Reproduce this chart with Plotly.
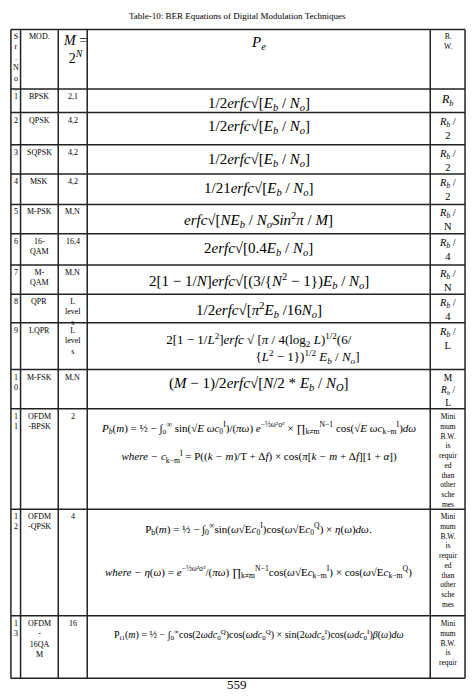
import plotly.graph_objects as go

# table content
sr_no = ["S<br>r<br>.<br>N<br>o<br>.", "1", "2", "3", "4", "5", "6", "7", "8", "9",
         "1<br>0", "1<br>1", "1<br>2", "1<br>3"]
mods = ["MOD.", "BPSK", "QPSK", "SQPSK", "MSK", "M-PSK", "16-<br>QAM", "M-<br>QAM", "QPR",
        "LQPR", "M-FSK", "OFDM<br>-BPSK", "OFDM<br>-QPSK", "OFDM<br>-<br>16QA<br>M"]
mn = ["", "2,1", "4,2", "4,2", "4,2", "M,N", "16,4", "M,N", "L<br>level<br>s",
      "L<br>level<br>s", "M,N", "2", "4", "16"]
pe = [
    "<i>P<sub>e</sub></i>",
    "1/2<i>erfc</i>√[<i>E<sub>b</sub></i> / <i>N<sub>o</sub></i>]",
    "1/2<i>erfc</i>√[<i>E<sub>b</sub></i> / <i>N<sub>o</sub></i>]",
    "1/2<i>erfc</i>√[<i>E<sub>b</sub></i> / <i>N<sub>o</sub></i>]",
    "1/21<i>erfc</i>√[<i>E<sub>b</sub></i> / <i>N<sub>o</sub></i>]",
    "<i>erfc</i>√[<i>NE<sub>b</sub></i> / <i>N<sub>o</sub>Sin</i><sup>2</sup><i>π</i> / <i>M</i>]",
    "2<i>erfc</i>√[0.4<i>E<sub>b</sub></i> / <i>N<sub>o</sub></i>]",
    "2[1 − 1/<i>N</i>]<i>erfc</i>√[(3/{<i>N</i><sup>2</sup> − 1})<i>E<sub>b</sub></i> / <i>N<sub>o</sub></i>]",
    "1/2<i>erfc</i>√[<i>π</i><sup>2</sup><i>E<sub>b</sub></i> /16<i>N<sub>o</sub></i>]",
    "2[1 − 1/<i>L</i><sup>2</sup>]<i>erfc</i> √ [<i>π</i> / 4(log<sub>2</sub> <i>L</i>)<sup>1/2</sup>(6/<br>"
    "                              {<i>L</i><sup>2</sup> − 1})<sup>1/2</sup> <i>E<sub>b</sub></i> / <i>N<sub>o</sub></i>]",
    "(<i>M</i> − 1)/2<i>erfc</i>√[<i>N</i>/2 * <i>E<sub>b</sub></i> / <i>N<sub>O</sub></i>]",
    "<i>P<sub>b</sub></i>(<i>m</i>) = ½ − ∫<sub>o</sub><sup>∞</sup> sin(√<i>E</i> <i>ωc</i><sub>0</sub><sup>I</sup>)/(<i>πω</i>) "
    "<i>e</i><sup>−½ω²σ²</sup> × ∏<sub>k≠m</sub><sup>N−1</sup> cos(√<i>E</i> <i>ωc</i><sub>k−m</sub><sup>I</sup>)<i>dω</i>"
    "<br><br><i>where − c</i><sub>k−m</sub><sup>I</sup> = P((<i>k − m</i>)/T + Δ<i>f</i>) × cos(<i>π</i>[<i>k − m</i> + Δ<i>f</i>][1 + <i>α</i>])",
    "P<sub>b</sub>(<i>m</i>) = ½ − ∫<sub>0</sub><sup>∞</sup>sin(<i>ω</i>√E<i>c</i><sub>0</sub><sup>I</sup>)cos(<i>ω</i>√E<i>c</i><sub>0</sub><sup>Q</sup>) × <i>η</i>(<i>ω</i>)<i>dω</i>."
    "<br><br><br><i>where − η</i>(<i>ω</i>) = <i>e</i><sup>−½ω²σ²</sup>/(<i>πω</i>) ∏<sub>k≠m</sub><sup>N−1</sup>cos(<i>ω</i>√E<i>c</i><sub>k−m</sub><sup>I</sup>) × cos(<i>ω</i>√E<i>c</i><sub>k−m</sub><sup>Q</sup>)",
    "P<sub>i1</sub>(<i>m</i>) = ½ − ∫<sub>0</sub><sup>∞</sup>cos(2<i>ωdc</i><sub>0</sub><sup>Q</sup>)cos(<i>ωdc</i><sub>0</sub><sup>Q</sup>) × sin(2<i>ωdc</i><sub>0</sub><sup>I</sup>)cos(<i>ωdc</i><sub>0</sub><sup>I</sup>)<i>β</i>(<i>ω</i>)<i>dω</i>",
]
bw = ["B.<br>W.", "<i>R<sub>b</sub></i>", "<i>R<sub>b</sub></i> /<br>2", "<i>R<sub>b</sub></i> /<br>2",
      "<i>R<sub>b</sub></i> /<br>2", "<i>R<sub>b</sub></i> /<br>N", "<i>R<sub>b</sub></i> /<br>4",
      "<i>R<sub>b</sub></i> /<br>N", "<i>R<sub>b</sub></i> /<br>4", "<i>R<sub>b</sub></i> /<br>L",
      "M<br><i>R<sub>b</sub></i> /<br>L",
      "Mini<br>mum<br>B.W.<br>is<br>requir<br>ed<br>than<br>other<br>sche<br>mes",
      "Mini<br>mum<br>B.W.<br>is<br>requir<br>ed<br>than<br>other<br>sche<br>mes",
      "Mini<br>mum<br>B.W.<br>is<br>requir"]

# layout grid (pixels in the reference page)
col_x = [3, 13, 52, 82, 437, 473]
row_y = [22, 83, 107, 140, 170, 201, 231, 263, 293, 322, 370, 410, 513, 622, 686]

SERIF = "Liberation Serif"
fig = go.Figure()
shapes = []
for x in col_x:
    shapes.append(dict(type="line", x0=x, x1=x, y0=row_y[0], y1=row_y[-1],
                       line=dict(color="#222", width=1.5)))
for y in row_y:
    shapes.append(dict(type="line", x0=col_x[0], x1=col_x[-1], y0=y, y1=y,
                       line=dict(color="#222", width=1.5)))

ann = []


def cell(x, y, text, size, xanchor="center", yanchor="top", align="center"):
    ann.append(dict(x=x, y=y, text=text, showarrow=False, xanchor=xanchor,
                    yanchor=yanchor, align=align,
                    font=dict(family=SERIF, size=size, color="black")))


for i in range(len(sr_no)):
    top = row_y[i]
    cell(col_x[1] - 5, top + 1, sr_no[i], 8)
    cell((col_x[1] + col_x[2]) / 2, top + 1, mods[i], 8)
    cell((col_x[2] + col_x[3]) / 2, top + 1, mn[i], 8)
    if i == 1:
        bw_size = 12
    elif 2 <= i <= 9:
        bw_size = 10.5
    elif i == 10:
        bw_size = 9.5
    else:
        bw_size = 7.5
    cell((col_x[4] + col_x[5]) / 2, top + 1, bw[i], bw_size)
    mid = (col_x[3] + col_x[4]) / 2
    if i == 0:
        cell(mid, top + 3, pe[i], 15)
        cell((col_x[2] + col_x[3]) / 2 + 2, top + 2,
             "<i>M</i> =<br>2<sup><i>N</i></sup>", 14)
    elif i >= 11:
        cell(mid, top + 10, pe[i], 11 if i < 13 else 10)
    else:
        cell(mid, top + 4 if i != 9 else top + 6, pe[i], 15 if i != 9 else 13)

cell(237, 8, "Table-10: BER Equations of Digital Modulation Techniques", 9, yanchor="middle")
cell(237, 692, "559", 13, yanchor="middle")

fig.update_layout(
    width=458, height=684, margin=dict(l=0, r=0, t=0, b=0),
    plot_bgcolor="white", paper_bgcolor="white",
    shapes=shapes, annotations=ann, showlegend=False,
    xaxis=dict(range=[0, 474], visible=False, fixedrange=True),
    yaxis=dict(range=[700, 0], visible=False, fixedrange=True),
)
fig.write_html("out.html")
